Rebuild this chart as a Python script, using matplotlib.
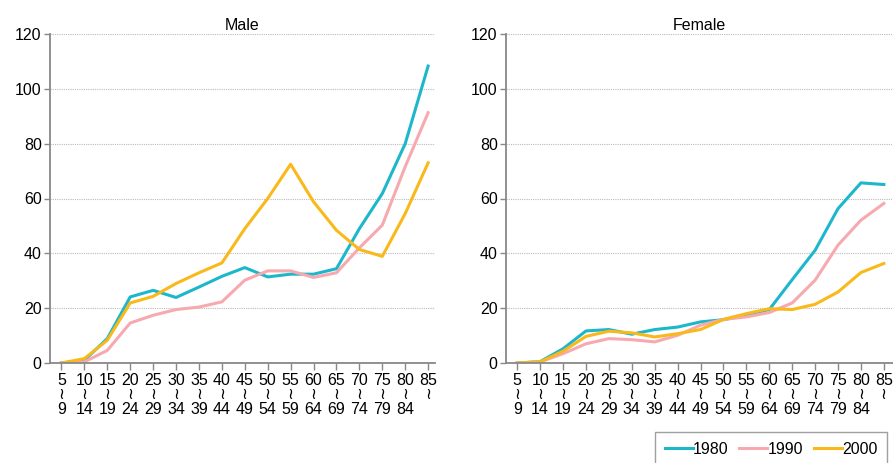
import matplotlib
matplotlib.use("Agg")
import matplotlib.pyplot as plt
import numpy as np

plt.rcParams['font.family'] = ['Liberation Sans', 'DejaVu Sans']

age_start = [5, 10, 15, 20, 25, 30, 35, 40, 45, 50, 55, 60, 65, 70, 75, 80, 85]
age_end = [9, 14, 19, 24, 29, 34, 39, 44, 49, 54, 59, 64, 69, 74, 79, 84, None]

male_1980 = [0, 1, 8.9, 24.1, 26.5, 23.9, 27.7, 31.6, 34.8, 31.4, 32.4, 32.4, 34.4, 49, 61.8, 80, 108.3]
male_1990 = [0, 0.4, 4.6, 14.6, 17.4, 19.5, 20.4, 22.3, 30.2, 33.6, 33.6, 31.2, 32.9, 42, 50.3, 71.6, 91.3]
male_2000 = [0, 1.6, 8.3, 21.9, 24.3, 29, 32.9, 36.5, 49, 60, 72.5, 58.8, 48.4, 41.4, 38.9, 54.5, 73]

female_1980 = [0, 0.5, 5.2, 11.7, 12.2, 10.5, 12.2, 13.1, 15, 15.8, 17.4, 19.5, 30.4, 41.1, 56.3, 65.7, 65.1]
female_1990 = [0, 0.4, 3.4, 7, 8.9, 8.5, 7.7, 10.1, 13.8, 15.9, 16.8, 18.4, 21.9, 30.2, 43, 52.1, 58.2]
female_2000 = [0, 0.4, 4.3, 9.7, 11.6, 11, 9.5, 10.7, 12.2, 15.9, 18, 19.8, 19.5, 21.4, 25.9, 33, 36.3]

years = ['1980', '1990', '2000']
colors = ['#1db7cb', '#f7a9b0', '#f9b91a']

tick_labels = [f"{s}\n≀\n{e}" if e is not None else f"{s}\n≀\n " for s, e in zip(age_start, age_end)]

W, H = 893, 463
fig = plt.figure(figsize=(W / 100, H / 100), dpi=100)

panels = [
    ("Male", [male_1980, male_1990, male_2000], [50 / W, 1 - 363 / H, 385 / W, 329 / H], (-0.5, 16.3)),
    ("Female", [female_1980, female_1990, female_2000], [506 / W, 1 - 363 / H, 387 / W, 329 / H], (-0.49, 16.4)),
]

x = np.arange(len(age_start))
lines = []
for title, series, rect, xl in panels:
    ax = fig.add_axes(rect)
    for vals, c, lab in zip(series, colors, years):
        ln, = ax.plot(x, vals, color=c, lw=2.2, label=lab, solid_joinstyle='round')
        lines.append(ln)
    ax.set_xlim(*xl)
    ax.set_ylim(0, 120)
    ax.set_yticks([0, 20, 40, 60, 80, 100, 120])
    ax.set_xticks(x)
    ax.set_xticklabels(tick_labels, fontsize=11.5, linespacing=0.95)
    ax.tick_params(axis='y', labelsize=11.5, length=4, color='#888888', width=1, pad=2)
    ax.tick_params(axis='x', length=5, color='#888888', width=1, pad=2)
    for s in ['top', 'right']:
        ax.spines[s].set_visible(False)
    for s in ['left', 'bottom']:
        ax.spines[s].set_color('#888888')
        ax.spines[s].set_linewidth(1.3)
    ax.grid(axis='y', color='#bbbbbb', linestyle=(0, (1, 1)), linewidth=0.8)
    ax.set_axisbelow(True)
    ax.set_title(title, fontsize=11.5, pad=3)
    ax.spines['left'].set_bounds(0, 120)

leg = fig.legend(lines[:3], years, loc='upper left', bbox_to_anchor=(655 / W, 1 - 432 / H),
                 ncol=3, frameon=True, fontsize=11.5, handlelength=1.75, handletextpad=0.0,
                 columnspacing=0.7, borderpad=0.6, fancybox=False, edgecolor='#888888',
                 borderaxespad=0)
leg.get_frame().set_linewidth(1.0)

fig.savefig("out.png", dpi=100)
